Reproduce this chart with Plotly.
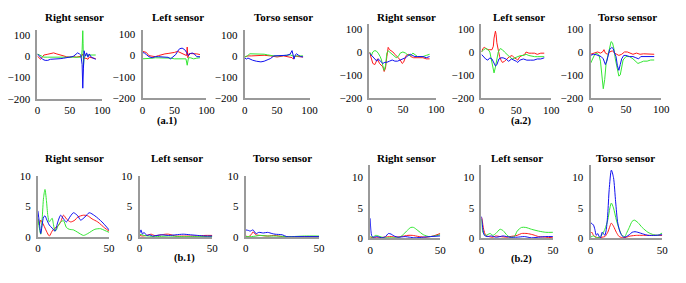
import plotly.graph_objects as go

# ---------------- data (time domain, row a) ----------------
a1r_red = [(0,0),(3,-10),(5,-15),(8,-3),(10,5),(15,8),(20,12),(25,15),(30,10),(35,5),(40,0),(45,-3),(50,-5),(55,-2),(60,-5),(65,-3),(68,0),(70,10),(72,-10),(75,-10),(78,-15),(80,-5),(85,-10),(90,-12)]
a1r_green = [(0,10),(3,5),(6,0),(10,-5),(15,-5),(20,-5),(30,-5),(40,-5),(50,-5),(55,-8),(60,-5),(65,-5),(68,-5),(69,30),(70,120),(70.5,60),(71,-50),(72,-10),(74,5),(78,5),(82,5),(86,5),(90,5)]
a1r_blue = [(0,10),(3,0),(5,-10),(8,-15),(12,-20),(16,-20),(20,-15),(25,-15),(30,-12),(35,-12),(40,-10),(45,-8),(50,-5),(53,-3),(56,0),(60,10),(62,15),(65,10),(67,5),(69,-40),(70,-150),(71,-60),(72,25),(74,0),(76,15),(78,-5),(80,10),(83,-5),(86,-10),(90,-15)]

a1l_red = [(0,20),(3,18),(6,15),(10,0),(15,-3),(20,-5),(25,0),(30,5),(35,8),(40,10),(45,12),(50,15),(55,20),(58,15),(62,8),(66,5),(69,0),(70,40),(71,-10),(73,10),(76,10),(80,10),(85,8),(90,5)]
a1l_green = [(0,-15),(5,-15),(10,-15),(15,-12),(20,-10),(30,-10),(40,-10),(45,-12),(50,-15),(55,-15),(60,-15),(65,-12),(68,-15),(70,-45),(72,-10),(75,-10),(80,-15),(85,-12),(90,-10)]
a1l_blue = [(0,15),(3,12),(6,5),(10,-5),(15,-10),(20,-5),(25,-5),(30,-5),(35,-5),(40,-8),(44,-15),(48,-5),(52,5),(55,20),(58,32),(62,35),(66,28),(69,15),(72,0),(75,10),(78,12),(81,8),(85,-5),(90,-5)]

a1t_red = [(0,-5),(5,0),(10,0),(20,2),(30,3),(40,0),(50,-5),(60,0),(65,-3),(70,-5),(73,-8),(75,-15),(78,0),(82,-3),(90,-5)]
a1t_green = [(0,-5),(4,0),(8,10),(12,10),(18,10),(25,8),(30,8),(35,5),(40,2),(45,0),(52,0),(60,0),(65,3),(70,5),(74,0),(77,-3),(80,0),(85,0),(90,0)]
a1t_blue = [(0,-10),(3,-15),(5,-10),(8,-15),(12,-20),(18,-25),(25,-28),(30,-25),(35,-20),(40,-12),(45,0),(50,0),(55,0),(60,3),(65,3),(70,8),(73,25),(75,0),(76,-15),(78,5),(80,10),(83,3),(86,-3),(90,-5)]

a2r_red = [(0,0),(3,-30),(5,-50),(8,-55),(10,-40),(12,-30),(15,-50),(17,-55),(20,-65),(22,-85),(24,-70),(26,-20),(28,20),(30,10),(33,5),(35,0),(38,-10),(40,-15),(43,-25),(46,-35),(49,-50),(51,-45),(53,-30),(55,-15),(58,-10),(62,-20),(66,-25),(70,-25),(75,-25),(80,-25),(85,-30),(90,-30)]
a2r_green = [(0,0),(3,-15),(5,0),(7,5),(10,5),(13,-5),(16,-20),(18,-35),(20,-60),(22,-80),(24,-60),(26,-5),(28,5),(30,0),(33,-5),(36,-15),(40,-25),(43,-20),(46,-5),(50,0),(54,-5),(58,-15),(62,-15),(65,-5),(68,-10),(72,-20),(76,-20),(80,-20),(85,-15),(90,-10)]
a2r_blue = [(0,-5),(3,-15),(6,-25),(9,-35),(11,-40),(13,-30),(15,-35),(17,-40),(20,-50),(23,-45),(26,-45),(30,-40),(34,-35),(38,-40),(42,-40),(46,-35),(50,-30),(54,-25),(58,-15),(61,-10),(64,-15),(68,-20),(72,-20),(76,-20),(80,-20),(85,-25),(90,-20)]

a2l_red = [(0,0),(2,15),(4,20),(6,15),(9,10),(12,10),(15,10),(17,25),(18,60),(20,90),(21,75),(22,40),(24,5),(26,-20),(28,-35),(30,-45),(33,-40),(36,-30),(40,-20),(44,-15),(47,-25),(50,-30),(52,-35),(55,-20),(58,-15),(62,-10),(64,0),(68,-5),(72,-5),(76,-5),(80,-10),(85,-5),(90,-5)]
a2l_green = [(0,0),(3,10),(6,15),(9,12),(12,0),(14,-30),(16,-65),(18,-90),(20,-65),(22,-30),(24,0),(27,15),(30,10),(33,0),(36,-10),(40,-20),(44,-30),(48,-25),(52,-20),(56,-15),(60,-15),(64,-10),(68,-15),(72,-18),(76,-20),(80,-20),(85,-20),(90,-20)]
a2l_blue = [(0,-10),(3,-20),(6,-30),(9,-35),(12,-25),(15,-30),(18,-45),(20,-60),(22,-55),(25,-30),(28,-25),(31,-25),(35,-30),(39,-40),(43,-30),(47,-35),(50,-40),(52,-45),(55,-35),(60,-30),(65,-35),(70,-35),(75,-35),(80,-30),(85,-30),(90,-25)]

a2t_red = [(0,-10),(5,-5),(10,0),(14,-5),(17,0),(19,10),(21,-5),(24,-10),(27,0),(31,5),(34,-5),(37,-10),(40,-15),(44,-10),(48,0),(52,0),(56,-5),(60,-10),(65,-5),(70,-10),(75,-8),(80,-8),(85,-10),(90,-10)]
a2t_green = [(0,-50),(3,-30),(6,-10),(9,-5),(12,-15),(14,-40),(16,-110),(18,-160),(20,-120),(22,-50),(25,-10),(27,20),(29,45),(31,40),(33,15),(35,-30),(38,-80),(40,-105),(42,-100),(44,-70),(46,-35),(50,-20),(55,-20),(60,-30),(64,-40),(67,-50),(71,-45),(75,-40),(80,-40),(85,-35),(90,-35)]
a2t_blue = [(0,-15),(4,-10),(8,-12),(12,-15),(15,-20),(18,-30),(21,-55),(23,-40),(25,-10),(27,10),(30,20),(32,15),(34,-5),(36,-20),(38,-60),(40,-80),(42,-55),(44,-30),(47,-15),(50,-15),(55,-20),(60,-20),(64,-25),(68,-30),(71,-20),(75,-20),(80,-20),(85,-20),(90,-20)]

# ---------------- data (spectra, row b) ----------------
b1r_red = [(0,3),(1,2),(2,2.8),(4,2),(6,1),(8,0.2),(10,1),(12,1.5),(14,1.8),(16,2.5),(18,3.6),(20,3),(23,2.5),(26,2.8),(28,3.3),(32,3.6),(35,3.5),(38,3),(42,2.5),(47,1.5),(50,1)]
b1r_green = [(0,3),(2,0.5),(3,3),(4,6.5),(5,7.8),(6,6),(7,3.5),(8,2.5),(9,2.8),(10,3.1),(11,2),(12,1),(13,1.2),(14,1.8),(16,2.5),(18,2.7),(20,1.6),(22,1.3),(25,1.2),(28,0.8),(32,0.3),(35,0.6),(40,1.3),(44,1.4),(47,1.1),(50,0.8)]
b1r_blue = [(0,4.3),(1,2.5),(2,0.6),(3,2),(4,3.3),(5,3.5),(6,3),(8,2),(10,1.5),(12,1),(14,2.5),(16,3.6),(18,3),(20,2.5),(23,3.5),(25,4),(28,3.5),(30,2.8),(33,3.3),(36,4),(40,3.5),(45,2.5),(50,1.2)]

b1l_red = [(0,0.3),(2,0.2),(5,0.3),(8,0.5),(10,0.3),(12,0.3),(15,0.4),(18,0.5),(20,0.5),(25,0.2),(30,0.2),(35,0.2),(40,0.2),(45,0.3),(50,0.3)]
b1l_green = [(0,0.5),(3,0.3),(6,0.2),(10,0.1),(15,0.15),(20,0.2),(25,0.15),(30,0.1),(40,0.1),(50,0.1)]
b1l_blue = [(0,0.6),(1,1.2),(2,0.5),(3,0.8),(5,0.3),(7,0.4),(9,0.2),(12,0.3),(15,0.4),(20,0.3),(25,0.4),(30,0.5),(35,0.4),(40,0.3),(45,0.2),(50,0.2)]

b1t_red = [(0,0.2),(2,0.1),(4,0.5),(5,0.9),(7,0.4),(10,0.3),(15,0.2),(20,0.3),(25,0.1),(30,0.1),(40,0.1),(50,0.1)]
b1t_green = [(0,0.1),(4,0.1),(7,0.2),(10,0.3),(15,0.2),(20,0.2),(25,0.15),(30,0.1),(40,0.2),(50,0.2)]
b1t_blue = [(0,1.2),(2,1.1),(3,1.0),(5,1.2),(7,0.6),(9,0.8),(12,0.7),(15,0.8),(18,0.6),(20,0.5),(25,0.4),(28,0.1),(35,0.1),(50,0.1)]

b2r_red = [(0,0.2),(3,0.1),(6,0.1),(10,0.2),(15,0.3),(18,0.2),(22,0.3),(27,0.5),(30,0.5),(35,0.3),(40,0.2),(45,0.4),(50,0.8)]
b2r_green = [(0,0.3),(2,0.2),(4,0.5),(7,0.3),(10,0.1),(15,0.1),(20,0.1),(23,0.5),(26,1.2),(29,1.8),(31,1.8),(34,1.3),(38,0.6),(42,0.3),(46,0.4),(50,0.6)]
b2r_blue = [(0,3.3),(1,0.5),(2,0.2),(5,0.3),(8,0.1),(11,0.3),(13,0.8),(15,0.7),(17,0.4),(20,0.2),(25,0.3),(28,0.2),(32,0.1),(38,0.2),(43,0.3),(50,0.4)]

b2l_red = [(0,3.5),(0.5,3),(1.5,1.5),(3,0.5),(5,0.3),(8,0.2),(10,0.4),(13,0.3),(18,0.2),(20,0.3),(25,0.5),(28,0.8),(32,0.8),(36,0.6),(40,0.3),(45,0.2),(50,0.1)]
b2l_green = [(0,3.2),(1,1),(3,0.5),(6,0.8),(8,0.5),(10,0.8),(13,1.5),(15,1.3),(18,0.5),(20,0.2),(23,0.3),(25,1.2),(28,1.8),(31,1.8),(35,1.5),(40,1.2),(45,1),(50,1)]
b2l_blue = [(0,3.6),(1,1.5),(2,0.5),(4,0.3),(7,0.4),(10,0.2),(13,0.3),(15,0.4),(20,0.2),(25,0.2),(30,0.3),(35,0.1),(40,0.2),(45,0.3),(50,0.3)]

b2t_red = [(0,0.8),(1,1),(2,0.5),(4,0.2),(6,0.1),(8,0.2),(10,0.3),(12,1),(13.5,2),(14.5,2.5),(16,2),(18,1),(20,0.3),(23,0.1),(25,0.2),(28,0.4),(32,0.5),(36,0.5),(40,0.5),(45,0.5),(50,0.5)]
b2t_green = [(0,0.2),(2,0.4),(4,0.1),(6,0.2),(8,0.6),(10,1.5),(12,3),(13.5,5),(14.5,5.8),(16,5),(18,3),(20,1.5),(22,0.5),(24,0.3),(25,0.8),(27,1.8),(29,2.8),(30.5,3),(33,2.6),(36,1.8),(40,1),(44,0.6),(47,0.5),(50,0.9)]
b2t_blue = [(0,2.6),(2,2.2),(3,1.5),(4,0.5),(5,0.8),(6,0.3),(7,0.1),(8,1),(9,0.8),(10,0.5),(11,1.5),(12,4),(13,8),(14.5,11.2),(16,10),(17.5,6),(19,2.5),(21,0.8),(23,0.2),(25,0.3),(27,0.6),(29,1),(31,1.1),(33,1),(37,0.7),(40,0.5),(45,0.5),(50,0.6)]

TITLES = ["Right sensor", "Left sensor", "Torso sensor"]
GROUP_LABELS = ["(a.1)", "(a.2)", "(b.1)", "(b.2)"]
TOP_YTICKS = [-200, -100, 0, 100]
TOP_XTICKS = [0, 50, 100]
BOT_YTICKS = [0, 5, 10]
BOT_XTICKS = [0, 50]

COLORS = {"red": "#ff1a1a", "green": "#33e633", "blue": "#1010f0"}

W, H = 686, 283
SERIF = "Liberation Serif, Times New Roman, serif"

# panel pixel boxes: (x0, x1, ytop, ybottom), yrange, xrange
panels = [
    # row a.1
    dict(box=(35, 101, 25.5, 97), yr=[-200, 120], xr=[0, 100], data=(a1r_red, a1r_green, a1r_blue), top=True, tx=73, ty=12),
    dict(box=(142, 207, 25, 96.5), yr=[-200, 120], xr=[0, 100], data=(a1l_red, a1l_green, a1l_blue), top=True, tx=178.5, ty=12),
    dict(box=(246, 312, 25.5, 96.5), yr=[-200, 120], xr=[0, 100], data=(a1t_red, a1t_green, a1t_blue), top=True, tx=285.5, ty=12),
    # row a.2
    dict(box=(373, 441, 19.2, 96), yr=[-200, 120], xr=[0, 100], data=(a2r_red, a2r_green, a2r_blue), top=True, tx=411, ty=11),
    dict(box=(487, 558, 19, 96.5), yr=[-200, 120], xr=[0, 100], data=(a2l_red, a2l_green, a2l_blue), top=True, tx=525, ty=11),
    dict(box=(598, 670, 19.2, 96), yr=[-200, 120], xr=[0, 100], data=(a2t_red, a2t_green, a2t_blue), top=True, tx=635.5, ty=11),
    # row b.1
    dict(box=(35.5, 108, 177.5, 241.5), yr=[0, 10], xr=[0, 50], data=(b1r_red, b1r_green, b1r_blue), top=False, tx=73, ty=159),
    dict(box=(139, 213, 177.5, 241.5), yr=[0, 10], xr=[0, 50], data=(b1l_red, b1l_green, b1l_blue), top=False, tx=177, ty=159),
    dict(box=(247, 321.7, 177.5, 241.5), yr=[0, 10], xr=[0, 50], data=(b1t_red, b1t_green, b1t_blue), top=False, tx=284.5, ty=159),
    # row b.2
    dict(box=(373.7, 445, 166.3, 242.7), yr=[0, 12], xr=[0, 50], data=(b2r_red, b2r_green, b2r_blue), top=False, tx=411, ty=159),
    dict(box=(487, 559.7, 166.3, 242.7), yr=[0, 12], xr=[0, 50], data=(b2l_red, b2l_green, b2l_blue), top=False, tx=523, ty=159),
    dict(box=(598, 671, 166.3, 242.7), yr=[0, 12], xr=[0, 50], data=(b2t_red, b2t_green, b2t_blue), top=False, tx=634, ty=159),
]

fig = go.Figure()
annotations = []
AXIS_GRAY = "#9a9a9a"

for i, p in enumerate(panels):
    n = i + 1
    xa = "x" if n == 1 else f"x{n}"
    ya = "y" if n == 1 else f"y{n}"
    xkey = "xaxis" if n == 1 else f"xaxis{n}"
    ykey = "yaxis" if n == 1 else f"yaxis{n}"
    x0, x1, yt, yb = p["box"]
    for series, cname in zip(p["data"], ["red", "green", "blue"]):
        xs = [pt[0] for pt in series]
        ys = [pt[1] for pt in series]
        fig.add_trace(go.Scatter(
            x=xs, y=ys, xaxis=xa, yaxis=ya, mode="lines",
            line=dict(color=COLORS[cname], width=1,
                      shape="linear" if p["top"] else "spline",
                      smoothing=0.7),
            showlegend=False, hoverinfo="skip"))
    common = dict(showline=True, linecolor=AXIS_GRAY, linewidth=2,
                  showgrid=False, zeroline=False, ticks="",
                  tickfont=dict(family=SERIF, size=11, color="black"))
    fig.layout[xkey] = dict(domain=[x0 / W, x1 / W], range=p["xr"], anchor=ya,
                            tickvals=TOP_XTICKS if p["top"] else BOT_XTICKS,
                            ticklabelstandoff=0, **common)
    fig.layout[ykey] = dict(domain=[1 - yb / H, 1 - yt / H], range=p["yr"], anchor=xa,
                            tickvals=TOP_YTICKS if p["top"] else BOT_YTICKS,
                            ticklabelstandoff=3, **common)
    annotations.append(dict(text=f"<b>{TITLES[i % 3]}</b>", x=p["tx"] / W, y=1 - p["ty"] / H,
                            xref="paper", yref="paper", showarrow=False,
                            xanchor="center", yanchor="middle",
                            font=dict(family=SERIF, size=11, color="black")))

label_pos = [(167, 120), (528, 120), (185, 263), (528, 264)]
for lab, (lx, ly) in zip(GROUP_LABELS, label_pos):
    annotations.append(dict(text=f"<b>{lab}</b>", x=lx / W, y=1 - ly / H,
                            xref="paper", yref="paper", showarrow=False,
                            xanchor="center", yanchor="middle",
                            font=dict(family=SERIF, size=10.5, color="black")))

fig.update_layout(width=W, height=H, margin=dict(l=0, r=0, t=0, b=0),
                  paper_bgcolor="white", plot_bgcolor="white",
                  annotations=annotations)

fig.write_html("out.html", config={"displayModeBar": False},
               post_script="document.body.style.margin='0';")
